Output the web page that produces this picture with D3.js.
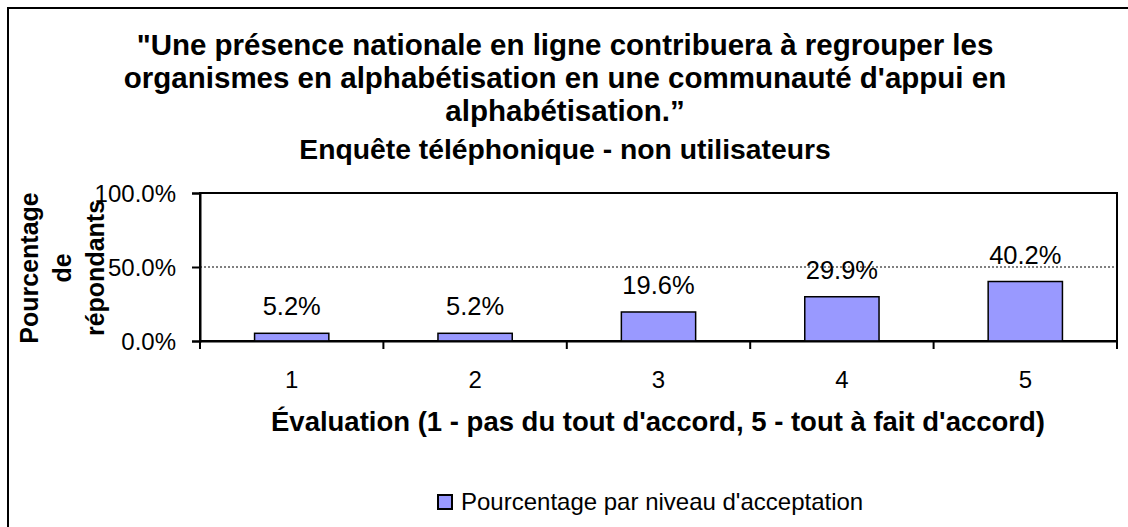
<!DOCTYPE html>
<html>
<head>
<meta charset="utf-8">
<script src="https://cdn.jsdelivr.net/npm/d3@7"></script>
<style>
  body { margin: 0; background: #fff; }
  svg text { font-family: "Liberation Sans", Arial, sans-serif; fill: #000; }
</style>
</head>
<body>
<div id="chart"></div>
<script>
// données
const categories = ["1", "2", "3", "4", "5"];
const valeurs = [0.052, 0.052, 0.196, 0.299, 0.402];
const graduationsY = [0, 0.5, 1];
const titre = [
  "\"Une présence nationale en ligne contribuera à regrouper les",
  "organismes en alphabétisation en une communauté d'appui en",
  "alphabétisation.\u201D",
  "Enquête téléphonique - non utilisateurs"
];
const titreY = ["Pourcentage", "de", "répondants"];
const titreX = "Évaluation (1 - pas du tout d'accord, 5 - tout à fait d'accord)";
const legende = "Pourcentage par niveau d'acceptation";

const largeur = 1128, hauteur = 527;
const zone = {gauche: 200, haut: 193, droite: 1117, bas: 341};
const couleurBarre = "#9999ff";

const svg = d3.select("#chart")
  .append("svg")
  .attr("width", largeur)
  .attr("height", hauteur);

// cadre extérieur
svg.append("rect")
  .attr("x", 8).attr("y", 8)
  .attr("width", 1140).attr("height", 540)
  .attr("fill", "none").attr("stroke", "#000").attr("stroke-width", 2);

// titre
const t = svg.append("text")
  .attr("text-anchor", "middle")
  .style("font-size", "29.5px")
  .style("font-weight", "bold");
const basesTitre = [55, 88, 121, 159];
titre.forEach((ligne, i) => {
  t.append("tspan")
    .attr("x", 565).attr("y", basesTitre[i])
    .style("font-size", i === 3 ? "28.3px" : null)
    .text(ligne);
});

// échelles
const x = d3.scaleBand()
  .domain(categories)
  .range([zone.gauche, zone.droite]);

const y = d3.scaleLinear()
  .domain([0, 1])
  .range([zone.bas, zone.haut]);

// ligne de grille à 50 %
svg.append("line")
  .attr("x1", zone.gauche).attr("x2", zone.droite)
  .attr("y1", y(0.5)).attr("y2", y(0.5))
  .attr("stroke", "#000").attr("stroke-width", 1)
  .attr("stroke-dasharray", "2,2");

// bordure de la zone de traçage
svg.append("rect")
  .attr("x", zone.gauche).attr("y", zone.haut)
  .attr("width", zone.droite - zone.gauche)
  .attr("height", zone.bas - zone.haut)
  .attr("fill", "none").attr("stroke", "#000").attr("stroke-width", 2);

// barres
const largeurBarre = x.bandwidth() * 0.405;
svg.selectAll(".barre")
  .data(valeurs)
  .enter()
  .append("rect")
  .attr("class", "barre")
  .attr("x", (d, i) => x(categories[i]) + (x.bandwidth() - largeurBarre) / 2)
  .attr("y", d => y(d))
  .attr("width", largeurBarre)
  .attr("height", d => y(0) - y(d))
  .attr("fill", couleurBarre)
  .attr("stroke", "#000")
  .attr("stroke-width", 1.5);

// étiquettes de valeurs
svg.selectAll(".etiquette")
  .data(valeurs)
  .enter()
  .append("text")
  .attr("class", "etiquette")
  .attr("x", (d, i) => x(categories[i]) + x.bandwidth() / 2)
  .attr("y", d => y(d) - 18)
  .attr("text-anchor", "middle")
  .style("font-size", "25.5px")
  .text(d => d3.format(".1%")(d));

// axe Y
const axeY = svg.append("g")
  .attr("transform", `translate(${zone.gauche},0)`)
  .call(d3.axisLeft(y)
    .tickValues(graduationsY)
    .tickFormat(d3.format(".1%"))
    .tickSize(8)
    .tickPadding(16));
axeY.select(".domain").attr("stroke-width", 2);
axeY.selectAll(".tick line").attr("stroke-width", 2);
axeY.selectAll("text")
  .style("font-size", "24px")
  .style("font-family", "Liberation Sans, Arial, sans-serif")
  .attr("dy", "0.35em");

// axe X : étiquettes au centre des catégories
const axeX = svg.append("g")
  .attr("transform", `translate(0,${zone.bas})`)
  .call(d3.axisBottom(x).tickSize(0).tickSizeOuter(0).tickPadding(30));
axeX.select(".domain").attr("stroke-width", 2);
axeX.selectAll("text")
  .style("font-size", "24px")
  .style("font-family", "Liberation Sans, Arial, sans-serif");

// graduations X aux limites des catégories
const limites = categories.map(c => x(c)).concat([x.range()[1]]);
svg.selectAll(".graduationX")
  .data(limites)
  .enter()
  .append("line")
  .attr("class", "graduationX")
  .attr("x1", d => d).attr("x2", d => d)
  .attr("y1", zone.bas).attr("y2", zone.bas + 8)
  .attr("stroke", "#000").attr("stroke-width", 2);

// titre de l'axe Y
const ty = svg.append("g")
  .attr("transform", "translate(0,268) rotate(-90)")
  .append("text")
  .attr("text-anchor", "middle")
  .style("font-size", "25px")
  .style("font-weight", "bold");
const basesY = [38, 71, 104];
titreY.forEach((ligne, i) => {
  ty.append("tspan").attr("x", 0).attr("y", basesY[i]).text(ligne);
});

// titre de l'axe X
svg.append("text")
  .attr("x", 658).attr("y", 431)
  .attr("text-anchor", "middle")
  .style("font-size", "27.5px")
  .style("font-weight", "bold")
  .text(titreX);

// légende
svg.append("rect")
  .attr("x", 438).attr("y", 495)
  .attr("width", 14).attr("height", 14)
  .attr("fill", couleurBarre)
  .attr("stroke", "#000").attr("stroke-width", 2);
svg.append("text")
  .attr("x", 461).attr("y", 510)
  .style("font-size", "24px")
  .text(legende);
</script>
</body>
</html>
